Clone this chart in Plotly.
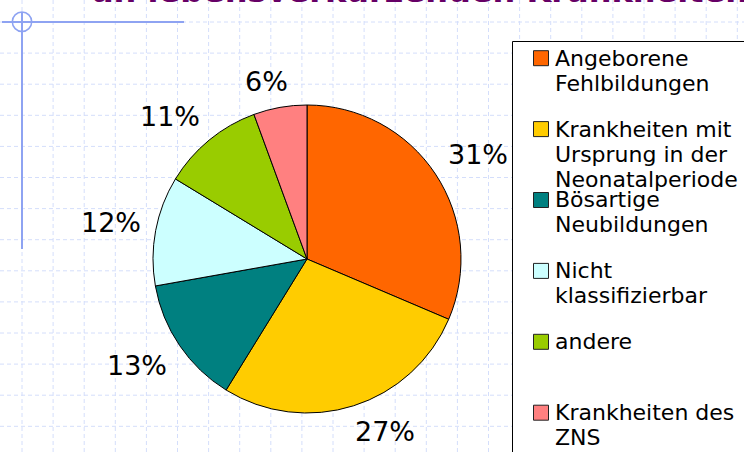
import math
import plotly.graph_objects as go

# ---------------- data ----------------
categories = [
    "Angeborene Fehlbildungen",
    "Krankheiten mit Ursprung in der Neonatalperiode",
    "Bösartige Neubildungen",
    "Nicht klassifizierbar",
    "andere",
    "Krankheiten des ZNS",
]
legend_lines = [
    ["Angeborene", "Fehlbildungen"],
    ["Krankheiten mit", "Ursprung in der", "Neonatalperiode"],
    ["Bösartige", "Neubildungen"],
    ["Nicht", "klassifizierbar"],
    ["andere"],
    ["Krankheiten des", "ZNS"],
]
shares = [31.4, 27.4, 13.4, 11.5, 10.7, 5.6]
colors = ["#FF6600", "#FFCC00", "#008080", "#CCFFFF", "#99CC00", "#FF8080"]
title_text = "an lebensverkürzenden Krankheiten"

# ---------------- layout constants (pixels) ----------------
W, H = 744, 452
CX, CY, R = 307, 259, 154


def px(x):
    return x / W


def py(y):
    return 1 - y / H


fig = go.Figure()
fig.add_trace(go.Pie(
    labels=categories,
    values=shares,
    sort=False,
    direction="clockwise",
    rotation=0,
    marker=dict(colors=colors, line=dict(color="black", width=1)),
    textinfo="none",
    showlegend=False,
    domain=dict(x=[px(CX - R), px(CX + R)], y=[py(CY + R), py(CY - R)]),
))

shapes = []
# background grid
GRID_COLOR = "#d4defb"
k = 0
while 22 + 31.1 * k < W:
    x = 22 + 31.1 * k
    shapes.append(dict(type="line", xref="paper", yref="paper", layer="below",
                       x0=px(x), x1=px(x), y0=0, y1=1,
                       line=dict(color=GRID_COLOR, width=1, dash="4px,3px")))
    k += 1
k = 0
while 22 + 31.1 * k < H:
    y = 22 + 31.1 * k
    shapes.append(dict(type="line", xref="paper", yref="paper", layer="below",
                       x0=0, x1=1, y0=py(y), y1=py(y),
                       line=dict(color=GRID_COLOR, width=1, dash="4px,3px")))
    k += 1

# decorative slide elements
DECO = "#8ea3f2"
shapes.append(dict(type="line", xref="paper", yref="paper", layer="below",
                   x0=px(2), x1=px(184), y0=py(22), y1=py(22),
                   line=dict(color=DECO, width=2)))
shapes.append(dict(type="line", xref="paper", yref="paper", layer="below",
                   x0=px(22), x1=px(22), y0=py(12), y1=py(249),
                   line=dict(color=DECO, width=2)))
shapes.append(dict(type="circle", xref="paper", yref="paper", layer="below",
                   x0=px(12.3), x1=px(31.7), y0=py(31.5), y1=py(12),
                   line=dict(color=DECO, width=1.5)))

# legend box
shapes.append(dict(type="rect", xref="paper", yref="paper", layer="below",
                   x0=px(512.5), x1=px(770), y0=py(41.5), y1=py(480),
                   fillcolor="white", line=dict(color="black", width=1)))

annotations = []
# legend entries
FIRST_BASE, SLOT, LINE_H, LFS = 65.7, 70.9, 25, 22
for i, lines in enumerate(legend_lines):
    base = FIRST_BASE + SLOT * i
    shapes.append(dict(type="rect", xref="paper", yref="paper", layer="above",
                       x0=px(533.5), x1=px(548.5), y0=py(base), y1=py(base - 15),
                       fillcolor=colors[i], line=dict(color="#222222", width=1)))
    for j, t in enumerate(lines):
        b = base + LINE_H * j
        annotations.append(dict(text=t, xref="paper", yref="paper",
                                x=px(553), y=py(b - 7.6), xanchor="left", yanchor="middle",
                                showarrow=False,
                                font=dict(family="DejaVu Sans", size=LFS, color="black")))

# percentage labels placed outside the slices
total = sum(shares)
cum = 0.0
PFS = 27


def clamp(s):
    return max(-1.0, min(1.0, s))


for v in shares:
    mid = (cum + v / 2) / total * 2 * math.pi
    cum += v
    txt = f"{round(v / total * 100)}%"
    hw = 0.5 * PFS * (0.636 * (len(txt) - 1) + 0.95)
    hh = 11.5
    rr = R + 15
    sx, cy_ = math.sin(mid), math.cos(mid)
    lx = CX + rr * sx + hw * clamp(3 * sx)
    ly = CY - rr * cy_ - hh * clamp(2.5 * cy_)
    annotations.append(dict(text=txt, xref="paper", yref="paper",
                            x=px(lx), y=py(ly), xanchor="center", yanchor="middle",
                            showarrow=False,
                            font=dict(family="DejaVu Sans", size=PFS, color="black")))

# title (mostly cut off at top)
annotations.append(dict(text=title_text, xref="paper", yref="paper",
                        x=px(90), y=py(12.5), xanchor="left", yanchor="bottom",
                        showarrow=False,
                        font=dict(family="DejaVu Sans", size=32, color="#660066", weight="bold")))

fig.update_layout(
    width=W, height=H,
    margin=dict(l=0, r=0, t=0, b=0),
    paper_bgcolor="white",
    plot_bgcolor="white",
    shapes=shapes,
    annotations=annotations,
    showlegend=False,
)

fig.write_html("out.html", config={"displayModeBar": False},
               post_script="document.body.style.margin='0';document.body.style.overflow='hidden';")
